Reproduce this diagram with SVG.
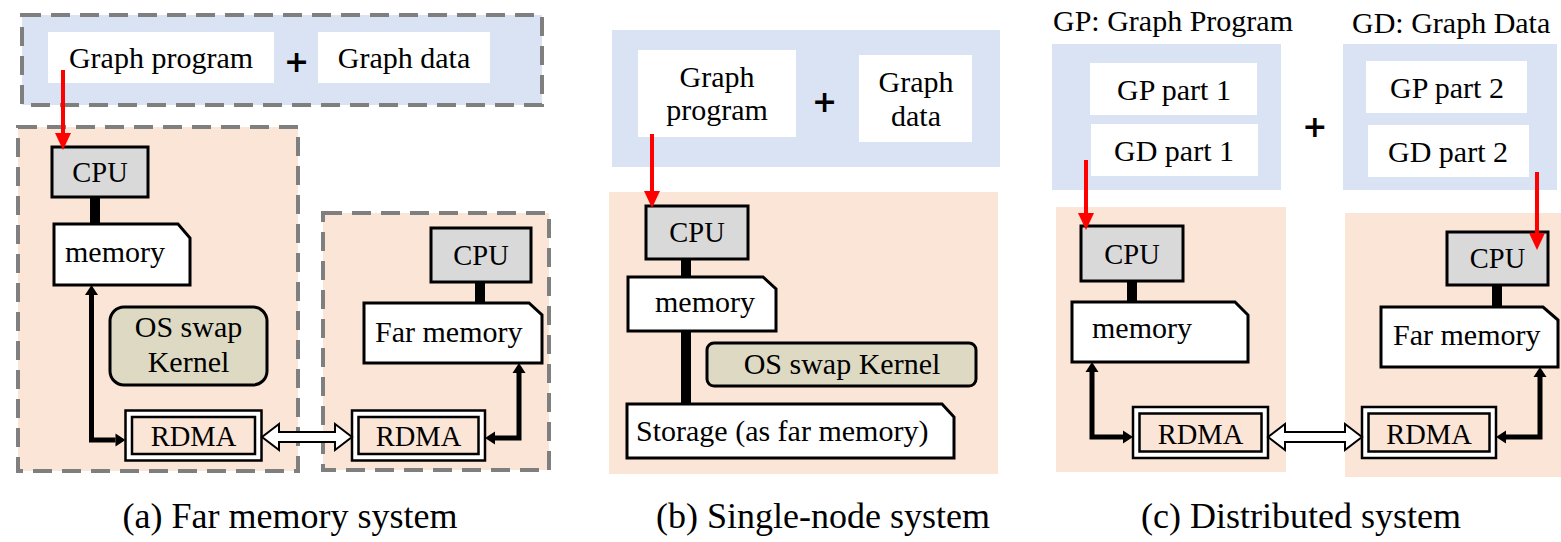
<svg xmlns="http://www.w3.org/2000/svg" width="1561" height="542" viewBox="0 0 1561 542">
  <style>
    text { font-family: "Liberation Serif", "Times New Roman", serif; font-size: 30px; fill: #000; }
    .mid { text-anchor: middle; }
    .hw { font-size: 28.5px; }
    .cap { font-size: 36px; text-anchor: middle; }
    .plus { font-family: "DejaVu Sans", sans-serif; font-weight: bold; text-anchor: middle; }
    .blue { fill: #dae3f3; }
    .orange { fill: #fbe5d6; }
    .dash { stroke: #7f7f7f; stroke-width: 4; stroke-dasharray: 19 10; }
    .white { fill: #fff; }
    .cpu { fill: #d9d9d9; stroke: #000; stroke-width: 3; }
    .mem { fill: #fff; stroke: #000; stroke-width: 3; stroke-linejoin: miter; }
    .os { fill: #ddd9c3; stroke: #000; stroke-width: 3; }
    .nic-out { fill: #fff; stroke: #000; stroke-width: 2.5; }
    .nic-in { fill: #fbe5d6; stroke: #000; stroke-width: 2.5; }
    .bus { stroke: #000; stroke-width: 10; fill: none; }
    .red { stroke: #f00; stroke-width: 4; fill: none; marker-end: url(#redHead); }
    .blk { stroke: #000; stroke-width: 5; fill: none; stroke-linejoin: miter; marker-start: url(#blkHead); marker-end: url(#blkHead); }
    .link { fill: #fff; stroke: #000; stroke-width: 2; stroke-linejoin: miter; }
  </style>
  <defs>
    <marker id="redHead" markerUnits="userSpaceOnUse" viewBox="0 0 17 16" markerWidth="17" markerHeight="16" refX="0" refY="8" orient="auto" overflow="visible">
      <path d="M0,0 L17,8 L0,16 Z" fill="#f00"/>
    </marker>
    <marker id="blkHead" markerUnits="userSpaceOnUse" viewBox="0 0 10 13" markerWidth="10" markerHeight="13" refX="0" refY="6.5" orient="auto-start-reverse" overflow="visible">
      <path d="M0,0 L10,6.5 L0,13 Z" fill="#000"/>
    </marker>
  </defs>

  <!-- (a) far memory system -->
  <g id="a-input">
    <rect class="blue dash" x="22" y="15" width="520" height="90"/>
    <rect class="white" x="48" y="32" width="226" height="51"/>
    <text class="mid" x="161" y="68">Graph program</text>
    <text class="plus" x="296.5" y="71.5" font-size="40">+</text>
    <rect class="white" x="318" y="32" width="172" height="51"/>
    <text class="mid" x="404" y="68">Graph data</text>
  </g>
  <g id="a-local-node">
    <rect class="orange dash" x="18" y="127" width="280" height="344"/>
  </g>
  <g id="a-remote-node">
    <rect class="orange dash" x="323" y="213" width="226" height="257"/>
  </g>
  <g id="a-cpu">
    <rect class="cpu" x="52" y="147" width="96" height="50"/>
    <text class="mid hw" x="100" y="182">CPU</text>
  </g>
  <g id="a-memory">
    <path class="mem" d="M54,224 H178 L190,238 V285 H54 Z"/>
    <text x="65" y="262">memory</text>
  </g>
  <g id="a-os-swap">
    <rect class="os" x="110" y="307" width="157" height="78" rx="14"/>
    <text class="mid" x="188.5" y="337">OS swap</text>
    <text class="mid" x="188.5" y="372">Kernel</text>
  </g>
  <g id="a-rdma-local">
    <rect class="nic-out" x="125.5" y="410.5" width="136" height="50"/>
    <rect class="nic-in" x="132" y="417" width="123" height="37"/>
    <text class="mid hw" x="193.5" y="446">RDMA</text>
  </g>
  <g id="a-rdma-remote">
    <rect class="nic-out" x="352" y="410.5" width="133" height="50"/>
    <rect class="nic-in" x="358.5" y="417" width="120" height="37"/>
    <text class="mid hw" x="418.5" y="446">RDMA</text>
  </g>
  <g id="a-cpu-remote">
    <rect class="cpu" x="431" y="228" width="100" height="54"/>
    <text class="mid hw" x="481" y="265">CPU</text>
  </g>
  <g id="a-far-memory">
    <path class="mem" d="M364,303 H529 L542,315 V363 H364 Z"/>
    <text x="375" y="342">Far memory</text>
  </g>

  <!-- (b) single-node system -->
  <g id="b-input">
    <rect class="blue" x="612" y="30" width="388" height="137"/>
    <rect class="white" x="638" y="50" width="158" height="87"/>
    <text class="mid" x="717" y="87">Graph</text>
    <text class="mid" x="717" y="120">program</text>
    <text class="plus" x="824.5" y="111.5" font-size="40">+</text>
    <rect class="white" x="859" y="55" width="113" height="87"/>
    <text class="mid" x="916" y="92">Graph</text>
    <text class="mid" x="916" y="126">data</text>
  </g>
  <g id="b-node">
    <rect class="orange" x="609" y="192" width="389" height="282"/>
  </g>
  <g id="b-cpu">
    <rect class="cpu" x="646" y="206" width="102" height="53"/>
    <text class="mid hw" x="697" y="242">CPU</text>
  </g>
  <g id="b-memory">
    <path class="mem" d="M628,277 H763 L776,289 V331 H628 Z"/>
    <text x="655" y="312">memory</text>
  </g>
  <g id="b-os-swap">
    <rect class="os" x="707" y="343" width="269" height="43" rx="7"/>
    <text class="mid" x="842" y="374">OS swap Kernel</text>
  </g>
  <g id="b-storage">
    <path class="mem" d="M627,404 H942 L954,417 V458 H627 Z"/>
    <text x="636" y="441">Storage (as far memory)</text>
  </g>

  <!-- (c) distributed system -->
  <g id="c-program">
    <text x="1053" y="31">GP: Graph Program</text>
    <rect class="blue" x="1052" y="44" width="229" height="146"/>
    <rect class="white" x="1090" y="63" width="167" height="52"/>
    <text class="mid" x="1174" y="100">GP part 1</text>
    <rect class="white" x="1091" y="124" width="167" height="52"/>
    <text class="mid" x="1174" y="161">GD part 1</text>
  </g>
  <text class="plus" x="1314.7" y="136.5" font-size="52">+</text>
  <g id="c-data">
    <text x="1352" y="33">GD: Graph Data</text>
    <rect class="blue" x="1343" y="44" width="214" height="146"/>
    <rect class="white" x="1366" y="61" width="161" height="52"/>
    <text class="mid" x="1447" y="98">GP part 2</text>
    <rect class="white" x="1368" y="125" width="161" height="52"/>
    <text class="mid" x="1448" y="162">GD part 2</text>
  </g>
  <g id="c-node-1">
    <rect class="orange" x="1056" y="207" width="230" height="265"/>
  </g>
  <g id="c-node-2">
    <rect class="orange" x="1345" y="213" width="216" height="264"/>
  </g>
  <g id="c-cpu-1">
    <rect class="cpu" x="1081" y="226" width="102" height="55"/>
    <text class="mid hw" x="1132" y="264">CPU</text>
  </g>
  <g id="c-memory">
    <path class="mem" d="M1072,302 H1235 L1248,315 V362 H1072 Z"/>
    <text x="1092" y="338">memory</text>
  </g>
  <g id="c-rdma-1">
    <rect class="nic-out" x="1133" y="407" width="135" height="51"/>
    <rect class="nic-in" x="1139.5" y="413.5" width="122" height="38"/>
    <text class="mid hw" x="1200.5" y="444">RDMA</text>
  </g>
  <g id="c-rdma-2">
    <rect class="nic-out" x="1362" y="407" width="134" height="51"/>
    <rect class="nic-in" x="1368.5" y="413.5" width="121" height="38"/>
    <text class="mid hw" x="1429" y="444">RDMA</text>
  </g>
  <g id="c-cpu-2">
    <rect class="cpu" x="1447" y="232" width="101" height="53"/>
    <text class="mid hw" x="1497.5" y="268">CPU</text>
  </g>
  <g id="c-far-memory">
    <path class="mem" d="M1381,307 H1543 L1558,320 V367 H1381 Z"/>
    <text x="1393" y="345">Far memory</text>
  </g>

  <!-- connectors -->
  <g id="connectors">
    <!-- processor-memory buses -->
    <line class="bus" x1="95" y1="198" x2="95" y2="223"/>
    <line class="bus" x1="480" y1="283" x2="480" y2="302"/>
    <line class="bus" x1="686" y1="260" x2="686" y2="276"/>
    <line class="bus" x1="686" y1="332" x2="686" y2="403"/>
    <line class="bus" x1="1132" y1="282" x2="1132" y2="301"/>
    <line class="bus" x1="1497" y1="286" x2="1497" y2="306"/>
    <!-- memory <-> RDMA -->
    <path class="blk" d="M91.5,295 V440 H115.5"/>
    <path class="blk" d="M519,373 V438 H495"/>
    <path class="blk" d="M1092,372 V437 H1123"/>
    <path class="blk" d="M1540,377 V437 H1506"/>
    <!-- network links -->
    <path class="link" d="M262,437 L279,424 V432 H335 V424 L352,437 L335,450 V442 H279 V450 Z"/>
    <path class="link" d="M1268,437 L1285,424 V432 H1345 V424 L1362,437 L1345,450 V442 H1285 V450 Z"/>
    <!-- program loading -->
    <path class="red" d="M63,70 V133"/>
    <path class="red" d="M652,134 V191"/>
    <path class="red" d="M1086,160 V213"/>
    <path class="red" d="M1537,172 V233"/>
  </g>

  <!-- captions -->
  <text class="cap" x="290" y="528">(a) Far memory system</text>
  <text class="cap" x="823" y="528">(b) Single-node system</text>
  <text class="cap" x="1301" y="528">(c) Distributed system</text>
</svg>
